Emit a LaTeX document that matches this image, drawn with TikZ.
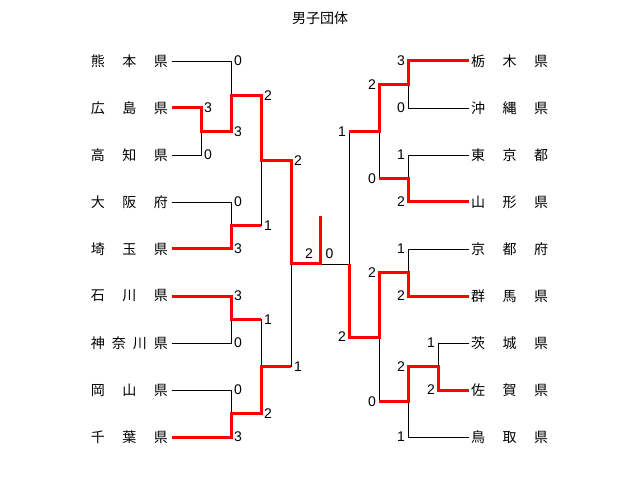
\documentclass[tikz,border=0pt]{standalone}
\usepackage{fontspec}
\setmainfont{Liberation Sans}
\newfontfamily\jfont{Noto Sans CJK JP}
\usetikzlibrary{positioning, calc}

\tikzset{
  team/.style={font=\jfont\fontsize{14}{14}\selectfont, inner ysep=0pt, text width=77pt},
  lteam/.style={team, anchor=east, inner xsep=4pt},
  rteam/.style={team, anchor=west, inner xsep=2pt},
  score/.style={font=\fontsize{14}{14}\selectfont, inner sep=1pt},
  lscore/.style={score, anchor=west},
  rscore/.style={score, anchor=east},
  lose/.style={draw=black, line width=0.8pt},
  win/.style={draw=red, line width=3pt},
}

\begin{document}
\begin{tikzpicture}[x=1pt, y=-1pt]
            \useasboundingbox (0,0) rectangle (640,481);
            \node[font=\jfont\fontsize{14}{14}\selectfont] (title) at (320,18) {男子団体};

            % left teams
            \node[lteam] (kumamoto) at (172,61) {熊\hfill 本\hfill 県};
            \node[lteam] (hiroshima) at (172,108) {広\hfill 島\hfill 県};
            \node[lteam] (kochi) at (172,155) {高\hfill 知\hfill 県};
            \node[lteam] (osaka) at (172,202) {大\hfill 阪\hfill 府};
            \node[lteam] (saitama) at (172,249) {埼\hfill 玉\hfill 県};
            \node[lteam] (ishikawa) at (172,296) {石\hfill 川\hfill 県};
            \node[lteam] (kanagawa) at (172,343) {神\hfill 奈\hfill 川\hfill 県};
            \node[lteam] (okayama) at (172,390) {岡\hfill 山\hfill 県};
            \node[lteam] (chiba) at (172,437) {千\hfill 葉\hfill 県};

            % right teams
            \node[rteam] (tochigi) at (469,61) {栃\hfill 木\hfill 県};
            \node[rteam] (okinawa) at (469,108) {沖\hfill 縄\hfill 県};
            \node[rteam] (tokyo) at (469,155) {東\hfill 京\hfill 都};
            \node[rteam] (yamagata) at (469,202) {山\hfill 形\hfill 県};
            \node[rteam] (kyoto) at (469,249) {京\hfill 都\hfill 府};
            \node[rteam] (gunma) at (469,296) {群\hfill 馬\hfill 県};
            \node[rteam] (ibaraki) at (469,343) {茨\hfill 城\hfill 県};
            \node[rteam] (saga) at (469,390) {佐\hfill 賀\hfill 県};
            \node[rteam] (tottori) at (469,437) {鳥\hfill 取\hfill 県};

            % match points
            \coordinate (la) at (201,131.5);
            \coordinate (lb) at (231,96);
            \coordinate (lc) at (231,225.5);
            \coordinate (ld) at (261,161);
            \coordinate (le) at (231,319.5);
            \coordinate (lf) at (231,413.5);
            \coordinate (lg) at (261,366.5);
            \coordinate (lh) at (291,264);
            \coordinate (fin) at (320,264);
            \coordinate (champ) at (320,216);
            \coordinate (rh) at (349,264);
            \coordinate (ra) at (408,84.5);
            \coordinate (rb) at (408,178.5);
            \coordinate (rc) at (379,131.5);
            \coordinate (rd) at (408,272.5);
            \coordinate (re) at (438,366.5);
            \coordinate (rf) at (408,401.75);
            \coordinate (rg) at (379,337);

            % bracket
            \path[lose]
            (kumamoto.east) -| (lb)
            (hiroshima.east) -| (la)
            (kochi.east) -| (la)
            (la) -| (lb)
            (osaka.east) -| (lc)
            (saitama.east) -| (lc)
            (lb) -| (ld)
            (lc) -| (ld)
            (ishikawa.east) -| (le)
            (kanagawa.east) -| (le)
            (okayama.east) -| (lf)
            (chiba.east) -| (lf)
            (le) -| (lg)
            (lf) -| (lg)
            (ld) -| (lh)
            (lg) -| (lh)
            (lh) -- (rh)
            (tochigi.west) -| (ra)
            (okinawa.west) -| (ra)
            (tokyo.west) -| (rb)
            (yamagata.west) -| (rb)
            (ra) -| (rc)
            (rb) -| (rc)
            (kyoto.west) -| (rd)
            (gunma.west) -| (rd)
            (ibaraki.west) -| (re)
            (saga.west) -| (re)
            (re) -| (rf)
            (tottori.west) -| (rf)
            (rd) -| (rg)
            (rf) -| (rg)
            (rc) -| (rh)
            (rg) -| (rh);

            % winners
            \path[win]
            (hiroshima.east) -| (la) -| (lb) -| (ld) -| (lh) -- (fin) -- (champ)
            (saitama.east) -| (lc) -- (lc -| ld)
            (ishikawa.east) -| (le) -- (le -| lg)
            (chiba.east) -| (lf) -| (lg) -- (lg -| lh)
            (tochigi.west) -| (ra) -| (rc) -- (rc -| rh)
            (yamagata.west) -| (rb) -- (rb -| rc)
            (gunma.west) -| (rd) -| (rg) -| (rh)
            (saga.west) -| (re) -| (rf) -- (rf -| rg);

            % scores
            \foreach \x/\y/\n [count=\i] in {203/108/3, 203/155/0,
                233/61/0, 233/131.5/3, 233/202/0, 233/249/3, 233/296/3, 233/343/0, 233/390/0, 233/437/3,
                263/96/2, 263/225.5/1, 263/319.5/1, 263/413.5/2,
                293/161/2, 293/366.5/1}
                \node[lscore] (ls\i) at (\x,\y) {\n};
            \foreach \x/\y/\n [count=\i] in {406/61/3, 406/108/0, 406/155/1, 406/202/2, 406/249/1, 406/296/2, 406/366.5/2, 406/437/1,
                436/343/1, 436/390/2,
                377/84.5/2, 377/178.5/0, 377/272.5/2, 377/401.75/0,
                347/131.5/1, 347/337/2}
                \node[rscore] (rs\i) at (\x,\y) {\n};
            \node[score] (fl) at (309,254) {2};
            \node[score] (fr) at (329.5,254) {0};
        \end{tikzpicture}
\end{document}
